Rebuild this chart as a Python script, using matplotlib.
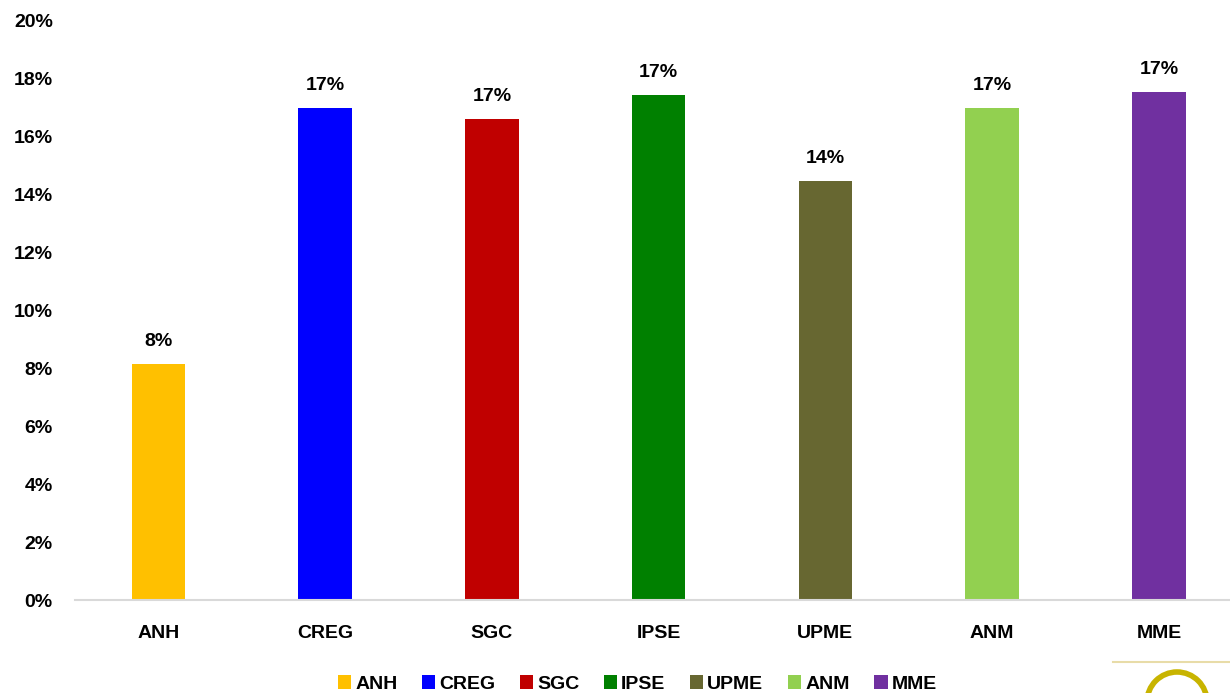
import numpy as np
import matplotlib
matplotlib.use('Agg')
import matplotlib.pyplot as plt
from matplotlib.patches import Patch, Ellipse
from matplotlib.lines import Line2D

plt.rcParams['font.family'] = ['Liberation Sans', 'DejaVu Sans']
plt.rcParams['font.weight'] = 'bold'

# data
entidades = ['ANH', 'CREG', 'SGC', 'IPSE', 'UPME', 'ANM', 'MME']
valores = [8.14, 16.97, 16.59, 17.41, 14.45, 16.97, 17.52]
etiquetas = ['8%', '17%', '17%', '17%', '14%', '17%', '17%']
colores = ['#FFC000', '#0000FF', '#C00000', '#008000', '#676731', '#92D050', '#7030A0']

W, H = 1230, 693
fig = plt.figure(figsize=(W / 100, H / 100), dpi=100)
ax = fig.add_axes([0.061, 0.134, 0.949, 0.837])

x = np.arange(len(entidades))
ax.bar(x, valores, width=0.32, color=colores, zorder=2)
for xi, v, t in zip(x, valores, etiquetas):
    ax.annotate(t, (xi, v), xytext=(0, 10), textcoords='offset points',
                ha='center', va='bottom', fontsize=14, fontweight='bold')

ax.set_xlim(-0.5, len(entidades) - 0.5)
ax.set_ylim(0, 20)
ax.set_yticks(np.arange(0, 21, 2))
ax.set_yticklabels([f'{t}%' for t in range(0, 21, 2)], fontsize=14, fontweight='bold')
ax.set_xticks(x)
ax.set_xticklabels(entidades, fontsize=14, fontweight='bold')
ax.tick_params(axis='both', length=0)
ax.tick_params(axis='y', pad=16)
ax.tick_params(axis='x', pad=18)
for s in ['top', 'right', 'left']:
    ax.spines[s].set_visible(False)
ax.spines['bottom'].set_color('#D9D9D9')
ax.spines['bottom'].set_linewidth(1.5)

handles = [Patch(facecolor=c) for c in colores]
fig.legend(handles, entidades, loc='center', bbox_to_anchor=(0.518, 0.013), ncol=7,
           frameon=False, handlelength=0.7, handleheight=0.7,
           handletextpad=0.2, columnspacing=1.25,
           prop={'weight': 'bold', 'size': 14})

# logo fragment bottom right
fig.add_artist(Line2D([1113 / W, 1.0], [1 - 662 / H] * 2, color='#E8DCA8', lw=1.5))
fig.add_artist(Ellipse((1177 / W, 1 - 702 / H), 60 / W, 60 / H, transform=fig.transFigure,
                       facecolor='white', edgecolor='#C8B400', lw=4))

fig.savefig('out.png', dpi=100)
